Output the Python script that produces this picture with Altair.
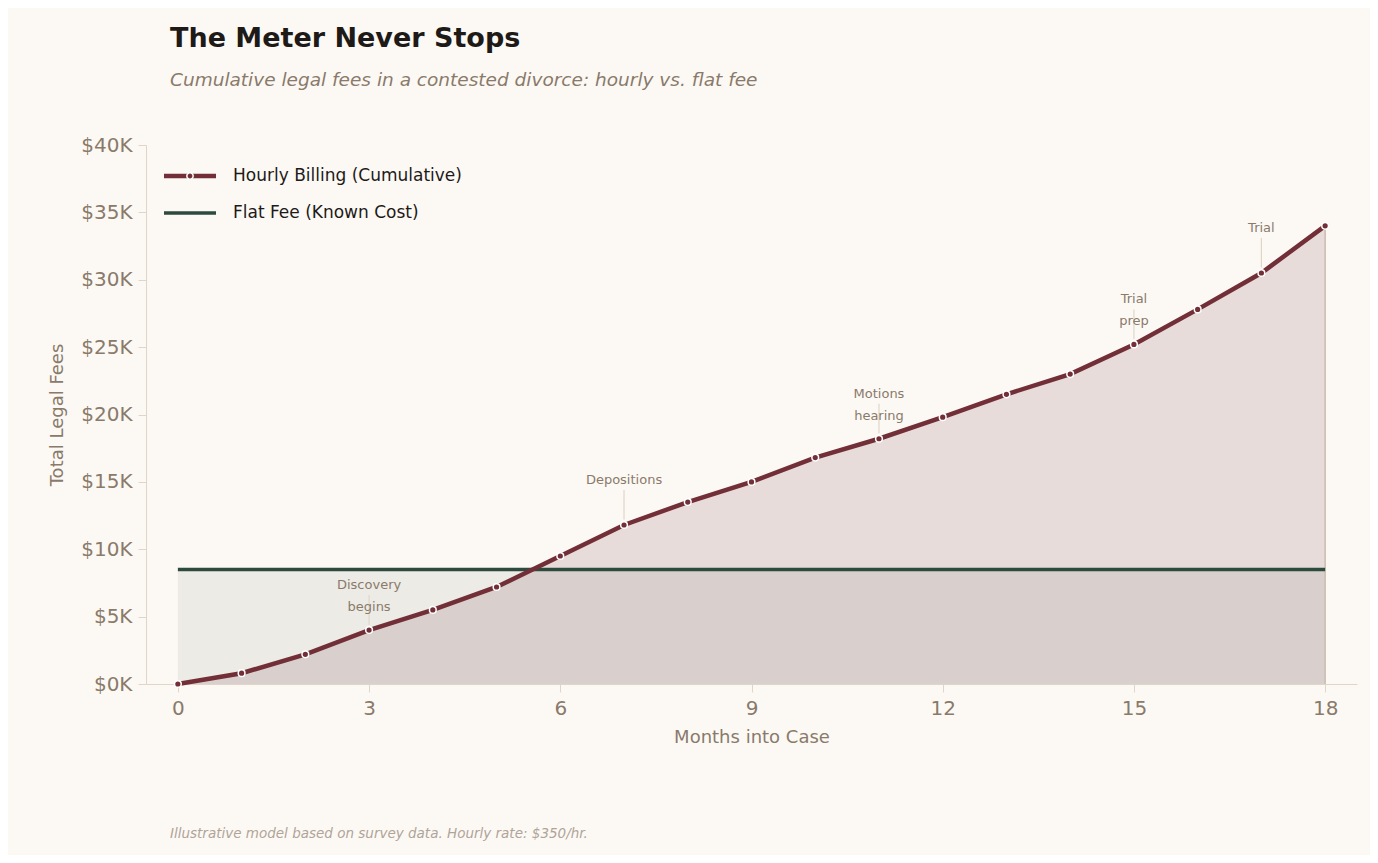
import pandas as pd
import altair as alt

MONTHS = list(range(19))
HOURLY = [0, 800, 2200, 4000, 5500, 7200, 9500, 11800, 13500, 15000,
          16800, 18200, 19800, 21500, 23000, 25200, 27800, 30500, 34000]
FLAT_FEE = 8500

EVENT_MONTHS = [3, 7, 11, 15, 17]
EVENT_LABELS = [["Discovery", "begins"], ["Depositions"], ["Motions", "hearing"],
                ["Trial", "prep"], ["Trial"]]

BG = "#fcf9f5"
WINE = "#722f37"
PINE = "#2d4a3e"
MUTED = "#8a7a6a"
LINE = "#e0d6c8"
FONT = "DejaVu Sans"

df = pd.DataFrame({"month": MONTHS, "fees": HOURLY, "flat": [FLAT_FEE] * len(MONTHS)})
ev = pd.DataFrame({
    "month": EVENT_MONTHS,
    "fees": [HOURLY[m] for m in EVENT_MONTHS],
    "label": EVENT_LABELS,
})

xscale = alt.Scale(domain=[-0.5, 18.5], nice=False, zero=False)
yscale = alt.Scale(domain=[0, 40000], nice=False)
xaxis = alt.Axis(values=[0, 3, 6, 9, 12, 15, 18], grid=False, format="d")
yaxis = alt.Axis(values=list(range(0, 40001, 5000)), grid=False,
                 labelExpr="'$' + datum.value / 1000 + 'K'")
x = alt.X("month:Q", title="Months into Case", scale=xscale, axis=xaxis)
y = alt.Y("fees:Q", title="Total Legal Fees", scale=yscale, axis=yaxis)
yflat = alt.Y("flat:Q", title="Total Legal Fees", scale=yscale, axis=yaxis)

base = alt.Chart(df)
hourly_area = base.mark_area(color=WINE, opacity=0.14).encode(x=x, y=y)
flat_area = base.mark_area(color=PINE, opacity=0.08).encode(x=x, y=yflat)
flat_line = base.mark_line(color=PINE, strokeWidth=3.5).encode(x=x, y=yflat)
hourly_line = base.mark_line(color=WINE, strokeWidth=4.5).encode(x=x, y=y)
dots = base.mark_point(filled=True, fill=WINE, stroke="white", strokeWidth=1.5,
                       size=45, opacity=1).encode(x=x, y=y)
edge = alt.Chart(pd.DataFrame({"month": [18], "fees": [HOURLY[-1]]})).mark_rule(
    color="#c9bcb0", strokeWidth=1.5).encode(x=x, y=y, y2=alt.datum(0))

ticks = alt.Chart(ev).transform_calculate(
    lo="datum.fees + 400", hi="datum.fees + 2600"
).mark_rule(color=LINE, strokeWidth=1.2).encode(x=x, y=alt.Y("lo:Q", scale=yscale, axis=yaxis,
                                                             title="Total Legal Fees"),
                                                 y2="hi:Q")
labels = alt.Chart(ev).mark_text(
    baseline="bottom", dy=-38, fontSize=13, color=MUTED, font=FONT, lineHeight=22
).encode(x=x, y=y, text="label")


def fixed(mark, **enc):
    return alt.Chart(pd.DataFrame({"a": [1]})).mark_text().encode() if False else \
        alt.Chart(pd.DataFrame({"a": [1]})).mark_point() if False else None


one = pd.DataFrame({"a": [1]})
leg_h = alt.Chart(one).mark_rule(strokeWidth=4.5, color=WINE).encode(
    x=alt.value(18), x2=alt.value(70), y=alt.value(31))
leg_f = alt.Chart(one).mark_rule(strokeWidth=3.5, color=PINE).encode(
    x=alt.value(18), x2=alt.value(70), y=alt.value(68))
leg_dot = alt.Chart(one).mark_point(
    filled=True, fill=WINE, stroke="white", strokeWidth=1.5, size=40, opacity=1
).encode(x=alt.value(44), y=alt.value(31))


def txt(t, xx, yy, size, color, baseline="alphabetic", **kw):
    return alt.Chart(pd.DataFrame({"t": [t]})).mark_text(
        align="left", baseline=baseline, fontSize=size, color=color, font=FONT, **kw
    ).encode(x=alt.value(xx), y=alt.value(yy), text="t")


leg_t1 = txt("Hourly Billing (Cumulative)", 87, 31, 17, "#1e1a17", baseline="middle")
leg_t2 = txt("Flat Fee (Known Cost)", 87, 68, 17, "#1e1a17", baseline="middle")
title = txt("The Meter Never Stops", 24, -98, 27, "#1e1a17", fontWeight="bold")
subtitle = txt("Cumulative legal fees in a contested divorce: hourly vs. flat fee",
               24, -59, 18.5, MUTED, fontStyle="italic")
footer = txt("Illustrative model based on survey data. Hourly rate: $350/hr.",
             24, 693, 13.5, "#b0a498", fontStyle="italic")

chart = alt.layer(
    hourly_area, flat_area, edge, flat_line, hourly_line, dots, ticks, labels,
    leg_h, leg_f, leg_dot, leg_t1, leg_t2, title, subtitle, footer
).properties(
    width=1211, height=539,
    autosize=alt.AutoSizeParams(type="none"),
    padding={"left": 138, "top": 137, "right": 13, "bottom": 171},
    background=BG,
).configure_view(stroke=None).configure_axis(
    grid=False, domainColor=LINE, tickColor=LINE, tickSize=8, labelColor=MUTED,
    titleColor=MUTED, labelFont=FONT, titleFont=FONT, labelFontSize=20, titleFontSize=18,
    titleFontWeight="normal", labelPadding=6,
).configure_axisY(titlePadding=14).configure_axisX(titlePadding=10)

chart.save("out.html", embed_options={"renderer": "svg", "actions": False})
